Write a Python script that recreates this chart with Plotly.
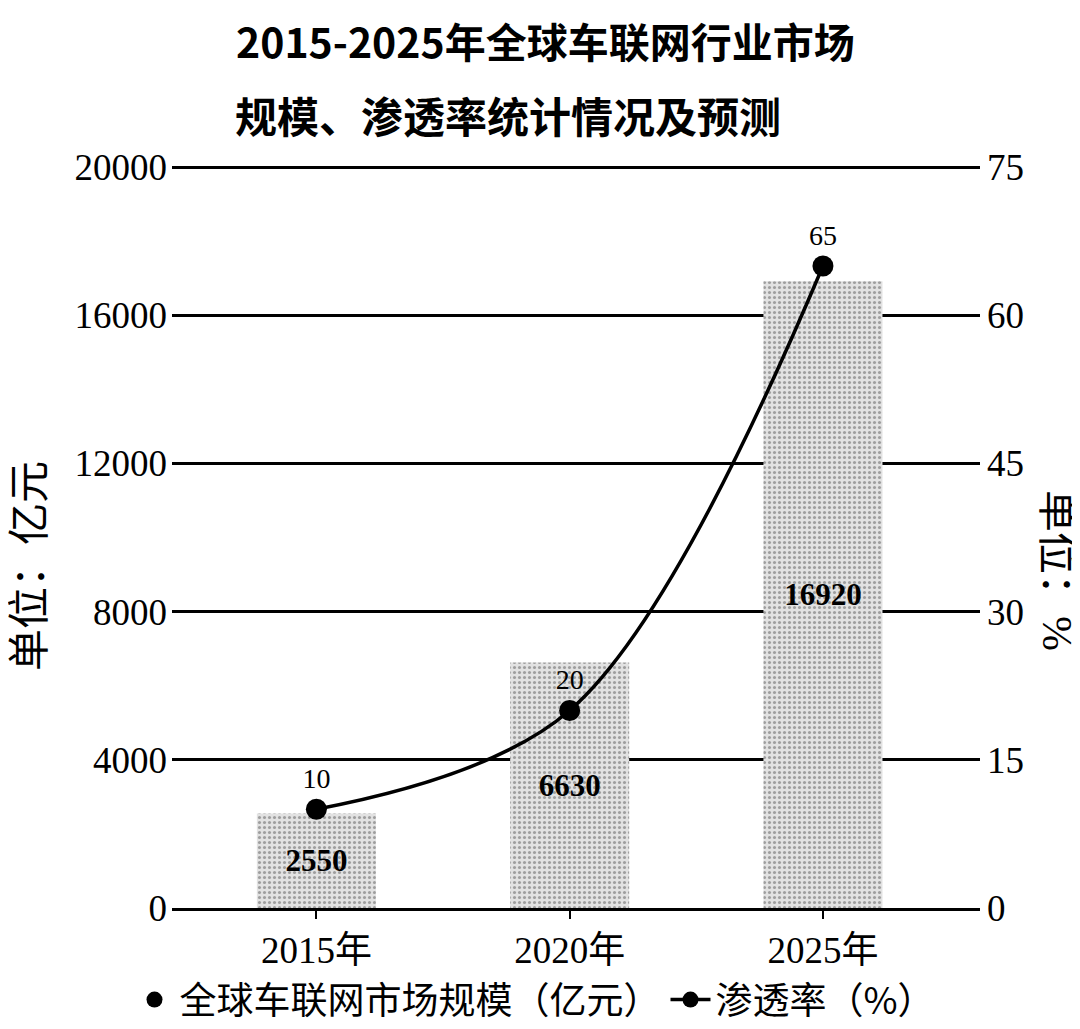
import plotly.graph_objects as go

categories = ["2015年", "2020年", "2025年"]
market_size = [2550, 6630, 16920]
penetration = [10, 20, 65]
left_ticks = [0, 4000, 8000, 12000, 16000, 20000]
right_ticks = [0, 15, 30, 45, 60, 75]

SERIF = "Liberation Serif, Times New Roman, serif"
CJK = "Noto Sans CJK SC"

# page body has ~8px default margin; figure sized to fit the viewport
OFF = 8
W, H = 1080 - OFF, 1029 - OFF
L = 172 - OFF
T = 165 - OFF
R = W - (980 - OFF)
B = H - (908 - OFF)
plot_w = W - L - R
plot_h = H - T - B


def px_to_paper(px, py):
    # px, py given in screenshot pixels
    return (px - OFF - L) / plot_w, (H - B - (py - OFF)) / plot_h


fig = go.Figure()

fig.add_trace(go.Bar(
    x=categories, y=market_size, name="全球车联网市场规模（亿元）",
    width=0.47, showlegend=False,
    marker=dict(color="#e4e4e4", line=dict(width=0),
                pattern=dict(shape=".", fgcolor="#5a5a5a", bgcolor="#e2e2e2", size=5, solidity=0.3)),
    text=[str(v) for v in market_size], textposition="inside", insidetextanchor="middle",
    textfont=dict(family=SERIF, size=31, color="black", weight="bold"),
    textangle=0,
))

# legend entry with circle symbol for the bar series
fig.add_trace(go.Scatter(
    x=[None], y=[None], mode="markers", name="全球车联网市场规模（亿元）",
    marker=dict(symbol="circle", size=22, color="black"), showlegend=True,
))

fig.add_trace(go.Scatter(
    x=categories, y=penetration, name="渗透率（%）", yaxis="y2",
    mode="lines+markers+text", line=dict(color="black", width=3.5, shape="spline", smoothing=1.0),
    marker=dict(symbol="circle", size=21, color="black"),
    text=[str(v) for v in penetration], textposition="top center",
    textfont=dict(family=SERIF, size=28, color="black"),
))

t1x, t1y = px_to_paper(545, 40)
t2x, t2y = px_to_paper(508, 114)
lyx, lyy = px_to_paper(30, 566)
ryx, ryy = px_to_paper(1057, 570)
lgx, lgy = px_to_paper(535, 1000)

fig.update_layout(
    width=W, height=H,
    paper_bgcolor="white", plot_bgcolor="white",
    margin=dict(l=L, r=R, t=T, b=B, autoexpand=False),
    xaxis=dict(
        type="category", range=[-0.57, 2.62], automargin=False,
        showline=True, linecolor="black", linewidth=3,
        ticks="outside", ticklen=8, tickwidth=2, tickcolor="black",
        tickfont=dict(family=SERIF + ", " + CJK, size=37, color="black"),
        showgrid=False,
    ),
    yaxis=dict(
        range=[0, 20060], tickvals=left_ticks, ticktext=[str(t) for t in left_ticks],
        showgrid=True, gridcolor="black", gridwidth=3, automargin=False,
        zeroline=False, showline=False,
        tickfont=dict(family=SERIF, size=37, color="black"),
        ticklabelstandoff=4,
    ),
    yaxis2=dict(
        range=[0, 75 * 20060 / 20000], tickvals=right_ticks, ticktext=[str(t) for t in right_ticks],
        overlaying="y", side="right", showgrid=False, zeroline=False, showline=False,
        automargin=False,
        tickfont=dict(family=SERIF, size=37, color="black"),
        ticklabelstandoff=6,
    ),
    legend=dict(
        orientation="h", x=lgx, xanchor="center", y=lgy, yanchor="middle",
        font=dict(family=CJK, size=37, color="black"),
        itemwidth=40, traceorder="normal",
    ),
    annotations=[
        dict(text="2015-2025年全球车联网行业市场", x=t1x, y=t1y, xref="paper", yref="paper",
             xanchor="center", yanchor="middle",
             showarrow=False, font=dict(family=CJK, size=41, color="black", weight="bold")),
        dict(text="规模、渗透率统计情况及预测", x=t2x, y=t2y, xref="paper", yref="paper",
             xanchor="center", yanchor="middle",
             showarrow=False, font=dict(family=CJK, size=42, color="black", weight="bold")),
        dict(text="单位：亿元", x=lyx, y=lyy, xref="paper", yref="paper", textangle=-90,
             xanchor="center", yanchor="middle",
             showarrow=False, font=dict(family=SERIF + ", " + CJK, size=42, color="black")),
        dict(text="单位：%", x=ryx, y=ryy, xref="paper", yref="paper", textangle=90,
             xanchor="center", yanchor="middle",
             showarrow=False, font=dict(family=SERIF + ", " + CJK, size=42, color="black")),
    ],
)

fig.write_html("out.html")
